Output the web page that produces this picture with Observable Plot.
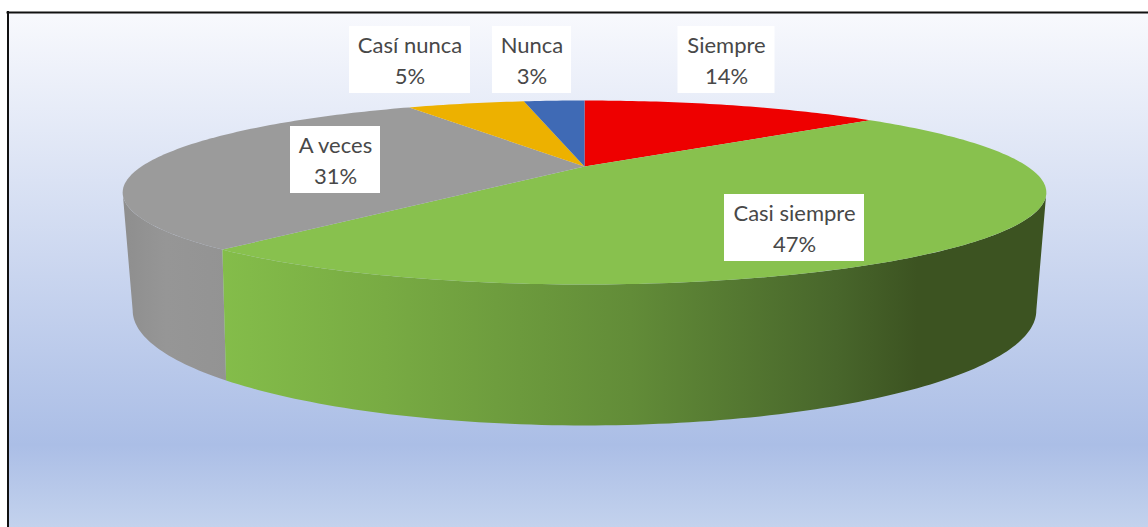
<!DOCTYPE html>
<html>
<head>
<meta charset="utf-8">
<style>html,body{margin:0;padding:0;background:#fff}svg{display:block}</style>
<script src="https://cdn.jsdelivr.net/npm/d3@7"></script>
<script src="https://cdn.jsdelivr.net/npm/@observablehq/plot@0.6"></script>
</head>
<body>
<div id="chart"></div>
<script>
// Data (read from the slice boundaries; the labels show them rounded)
const categories = ["Siempre", "Casi siempre", "A veces", "Casí nunca", "Nunca"];
const shares = [13.8, 47.25, 30.75, 5.4, 2.8];
const sliceColors = ["#ee0000", "#88c14e", "#9b9b9b", "#edb100", "#3f6ab5"];

// Label layout (separate from the data): centre of each white box and its width
const labelCenter = [[726, 59.5], [794, 227.5], [335, 159.5], [409.5, 59.5], [531.5, 59.5]];
const labelWidth = [97, 140, 90, 121, 79];
const labelHeight = 67;

// Perspective views of the pie's top and bottom discs
const topDisc = {Y: 166, A: 443, B: 84.65, k: 0.2826};
const bottomDisc = {Y: 275.5, A: 431, B: 104.6, k: 0.3};
const centerX = 584;
const project = (disc, deg) => {
  const t = deg * Math.PI / 180, u = Math.sin(t), v = Math.cos(t), w = 1 + disc.k * v;
  return [centerX + disc.A * u / w, disc.Y - disc.B * v / w];
};

// Cumulative angles from the shares
const total = d3.sum(shares);
let acc = 0;
const slices = categories.map((name, i) => {
  const start = acc * 360 / total;
  acc += shares[i];
  return {name, share: shares[i], start, end: acc * 360 / total};
});
const arc = (disc, a, b) => {
  const n = Math.max(2, Math.ceil(Math.abs(b - a)));
  return d3.range(n + 1).map(i => project(disc, a + (b - a) * i / n));
};

// Top face polygons
const topPoints = slices.flatMap(s =>
  [project({...topDisc, A: 0, B: 0}, 0), ...arc(topDisc, s.start, s.end)]
    .map(([x, y]) => ({slice: s.name, x, y})));

// Side walls: visible part of the rim of each slice
const sil = d => Math.acos(-d.k) * 180 / Math.PI;
const wall = (s) => {
  const tA = Math.max(s.start, sil(topDisc)), tB = Math.min(s.end, 360 - sil(topDisc));
  const bA = Math.max(s.start, sil(bottomDisc)), bB = Math.min(s.end, 360 - sil(bottomDisc));
  return [...arc(topDisc, tA, tB), ...arc(bottomDisc, bA, bB).reverse()]
    .map(([x, y]) => ({slice: s.name, x, y}));
};
const greenWall = wall(slices[1]);
const grayWall = wall(slices[2]);

const labels = slices.map((s, i) => ({
  text: `${s.name}\n${Math.round(s.share)}%`,
  cx: labelCenter[i][0], cy: labelCenter[i][1] - 1,
  x1: labelCenter[i][0] - labelWidth[i] / 2, x2: labelCenter[i][0] + labelWidth[i] / 2,
  y1: labelCenter[i][1] - labelHeight / 2, y2: labelCenter[i][1] + labelHeight / 2
}));

const defs = () => {
  const ns = "http://www.w3.org/2000/svg";
  const d = document.createElementNS(ns, "defs");
  const grad = (id, x1, y1, x2, y2, stops) => {
    const g = document.createElementNS(ns, "linearGradient");
    g.setAttribute("id", id);
    g.setAttribute("gradientUnits", "userSpaceOnUse");
    Object.entries({x1, y1, x2, y2}).forEach(([k, v]) => g.setAttribute(k, v));
    stops.forEach(([o, c]) => {
      const s = document.createElementNS(ns, "stop");
      s.setAttribute("offset", o);
      s.setAttribute("stop-color", c);
      g.appendChild(s);
    });
    d.appendChild(g);
  };
  grad("bg", 0, 13, 0, 527, [[0, "#f8f9fd"], [0.84, "#abbee6"], [1, "#c3d2ed"]]);
  grad("greenSide", 221, 0, 1040, 0, [[0, "#84bd4a"], [0.2, "#78ab43"], [0.5, "#628c38"], [0.75, "#48662b"], [0.85, "#3c5321"], [1, "#3c5321"]]);
  grad("graySide", 122, 0, 230, 0, [[0, "#8e8e8e"], [0.4, "#969696"], [1, "#939393"]]);
  return d;
};

const chart = Plot.plot({
  width: 1148, height: 527,
  margin: 0,
  x: {domain: [0, 1148], range: [0, 1148], axis: null},
  y: {domain: [0, 527], range: [0, 527], axis: null},
  color: {domain: categories, range: sliceColors},
  style: {background: "#fff"},
  marks: [
    defs,
    Plot.rect([{}], {x1: () => 8, x2: () => 1148, y1: () => 13, y2: () => 527, fill: "url(#bg)"}),
    Plot.ruleX([7.5], {y1: 11, y2: 527, stroke: "#111", strokeWidth: 2}),
    Plot.ruleY([12], {x1: 6.5, x2: 1148, stroke: "#111", strokeWidth: 2}),
    Plot.line(grayWall, {x: "x", y: "y", z: "slice", fill: "url(#graySide)", stroke: null}),
    Plot.line(greenWall, {x: "x", y: "y", z: "slice", fill: "url(#greenSide)", stroke: null}),
    Plot.line(topPoints, {x: "x", y: "y", z: "slice", fill: "slice", stroke: null}),
    Plot.rect(labels, {x1: "x1", x2: "x2", y1: "y1", y2: "y2", fill: "#fff"}),
    Plot.text(labels, {
      x: "cx", y: "cy", text: "text", fill: "#484848",
      fontFamily: "Lato", fontSize: 22, lineHeight: 1.4, textAnchor: "middle"
    })
  ]
});
document.getElementById("chart").appendChild(chart);
</script>
</body>
</html>
